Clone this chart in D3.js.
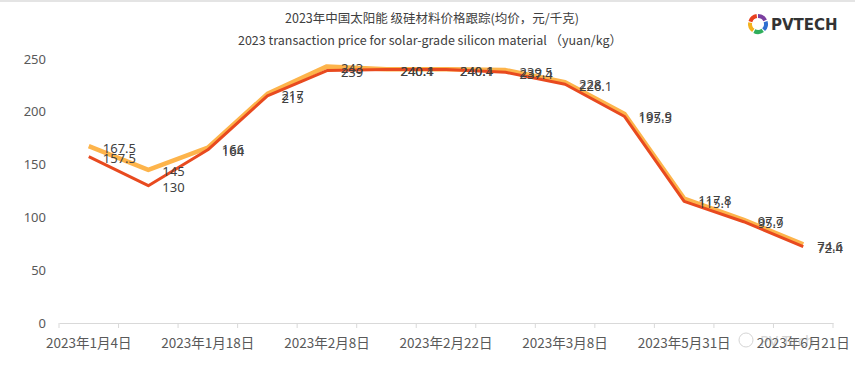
<!DOCTYPE html>
<html>
<head>
<meta charset="utf-8">
<script src="https://cdn.jsdelivr.net/npm/d3@7"></script>
<style>
body{margin:0;background:#fff;}
svg{display:block;font-family:"Noto Sans","Noto Sans CJK SC",sans-serif;}
</style>
</head>
<body>
<div id="chart"></div>
<script>
// dates of each price check
var dates = ["2023年1月4日","2023年1月11日","2023年1月18日","2023年2月1日","2023年2月8日","2023年2月15日",
    "2023年2月22日","2023年3月1日","2023年3月8日","2023年5月24日","2023年5月31日","2023年6月14日","2023年6月21日"];
// only every other date gets a label on the axis
var dateLabels = ["2023年1月4日","2023年1月18日","2023年2月8日","2023年2月22日","2023年3月8日","2023年5月31日","2023年6月21日"];
var highPrice = [167.5,145,166,217,243,240.4,240.4,239.5,228,197.9,117.8,97.7,74.6];
var lowPrice  = [157.5,130,164,215,239,240.1,240.1,237.4,226.1,195.5,115.1,95.9,72.4];
var yTicks = [0,50,100,150,200,250];

var W = 855, H = 373;
var margin = {t: 59, r: 22, b: 50, l: 59};
var width = W - margin.l - margin.r,
    height = H - margin.t - margin.b;

var svg = d3.select('#chart').append('svg')
    .attr('width', W)
    .attr('height', H);

svg.append('rect').attr('width', W).attr('height', 2).attr('fill', '#e4e4e4');

var plot = svg.append('g')
    .attr('transform', 'translate(' + margin.l + ',' + margin.t + ')');

var x = d3.scaleBand().domain(dates).range([0, width]);
var y = d3.scaleLinear().domain([0, 250]).range([height, 0]);

// titles
svg.append('text')
    .attr('x', 432).attr('y', 23)
    .attr('text-anchor', 'middle')
    .attr('font-family', '"Noto Sans CJK SC"')
    .attr('font-size', 12.5)
    .attr('fill', '#404040')
    .text('2023年中国太阳能 级硅材料价格跟踪(均价，元/千克)');
svg.append('text')
    .attr('x', 430).attr('y', 45)
    .attr('text-anchor', 'middle')
    .attr('font-family', '"Noto Sans CJK SC"')
    .attr('font-size', 12.5)
    .attr('fill', '#404040')
    .text('2023 transaction price for solar-grade silicon material  （yuan/kg）');

// logo
var logo = svg.append('g').attr('transform', 'translate(758,24)');
var ringCols = ['#7b3fa0','#2f6fd0','#2fae5c','#f3b11d','#e8401f'];
var arc = d3.arc().innerRadius(6).outerRadius(10);
ringCols.forEach(function(c, i){
    logo.append('path')
        .attr('d', arc({startAngle: i*2*Math.PI/5, endAngle: (i+1)*2*Math.PI/5 - 0.15}))
        .attr('fill', c);
});
svg.append('text')
    .attr('x', 771).attr('y', 30)
    .attr('font-family', '"DejaVu Sans"')
    .attr('font-weight', 'bold')
    .attr('font-size', 15)
    .attr('fill', '#333')
    .text('PVTECH');

// y axis labels, no gridlines
plot.selectAll('.ylab')
    .data(yTicks)
    .enter().append('text')
    .attr('class', 'ylab')
    .attr('x', -13)
    .attr('y', function(d){ return y(d); })
    .attr('dy', '0.35em')
    .attr('text-anchor', 'end')
    .attr('font-size', 13)
    .attr('fill', '#595959')
    .text(function(d){ return d; });

// x axis
var xAxis = d3.axisBottom(x).tickSize(0).tickFormat('');
var gx = plot.append('g')
    .attr('transform', 'translate(0,' + height + ')')
    .call(xAxis);
gx.select('.domain').attr('stroke', '#d9d9d9').attr('stroke-width', 1.2);

var bounds = dates.map(function(d){ return x(d); }).concat([width]);
gx.selectAll('.tk')
    .data(bounds)
    .enter().append('line')
    .attr('class', 'tk')
    .attr('x1', function(d){ return d; })
    .attr('x2', function(d){ return d; })
    .attr('y1', 0).attr('y2', 5)
    .attr('stroke', '#d9d9d9');

gx.selectAll('.xlab')
    .data(dateLabels)
    .enter().append('text')
    .attr('class', 'xlab')
    .attr('x', function(d){ return x(d) + x.bandwidth()/2; })
    .attr('y', 25)
    .attr('text-anchor', 'middle')
    .attr('font-family', '"Noto Sans CJK SC"')
    .attr('font-size', 13.5)
    .attr('fill', '#595959')
    .text(function(d){ return d; });

// watermark
var wm = svg.append('g').attr('opacity', 0.35);
wm.append('circle').attr('cx', 746).attr('cy', 340).attr('r', 7)
    .attr('fill', 'none').attr('stroke', '#888');
wm.append('text').attr('x', 760).attr('y', 346)
    .attr('font-size', 15).attr('fill', '#888').text('PV Tech');

// lines
var line = d3.line()
    .x(function(d, i){ return x(dates[i]) + x.bandwidth()/2; })
    .y(function(d){ return y(d); });

plot.append('path')
    .datum(highPrice)
    .attr('d', line)
    .attr('fill', 'none')
    .attr('stroke', '#fdb44b')
    .attr('stroke-width', 4.5)
    .attr('stroke-linejoin', 'round');

plot.append('path')
    .datum(lowPrice)
    .attr('d', line)
    .attr('fill', 'none')
    .attr('stroke', '#e84a1f')
    .attr('stroke-width', 3)
    .attr('stroke-linejoin', 'round');

// value labels
[highPrice, lowPrice].forEach(function(series){
    plot.selectAll(null)
        .data(series)
        .enter().append('text')
        .attr('x', function(d, i){ return x(dates[i]) + x.bandwidth()/2 + 14; })
        .attr('y', function(d){ return y(d) + 2; })
        .attr('dy', '0.35em')
        .attr('font-size', 13)
        .attr('fill', '#404040')
        .text(function(d){ return d; });
});
</script>
</body>
</html>
